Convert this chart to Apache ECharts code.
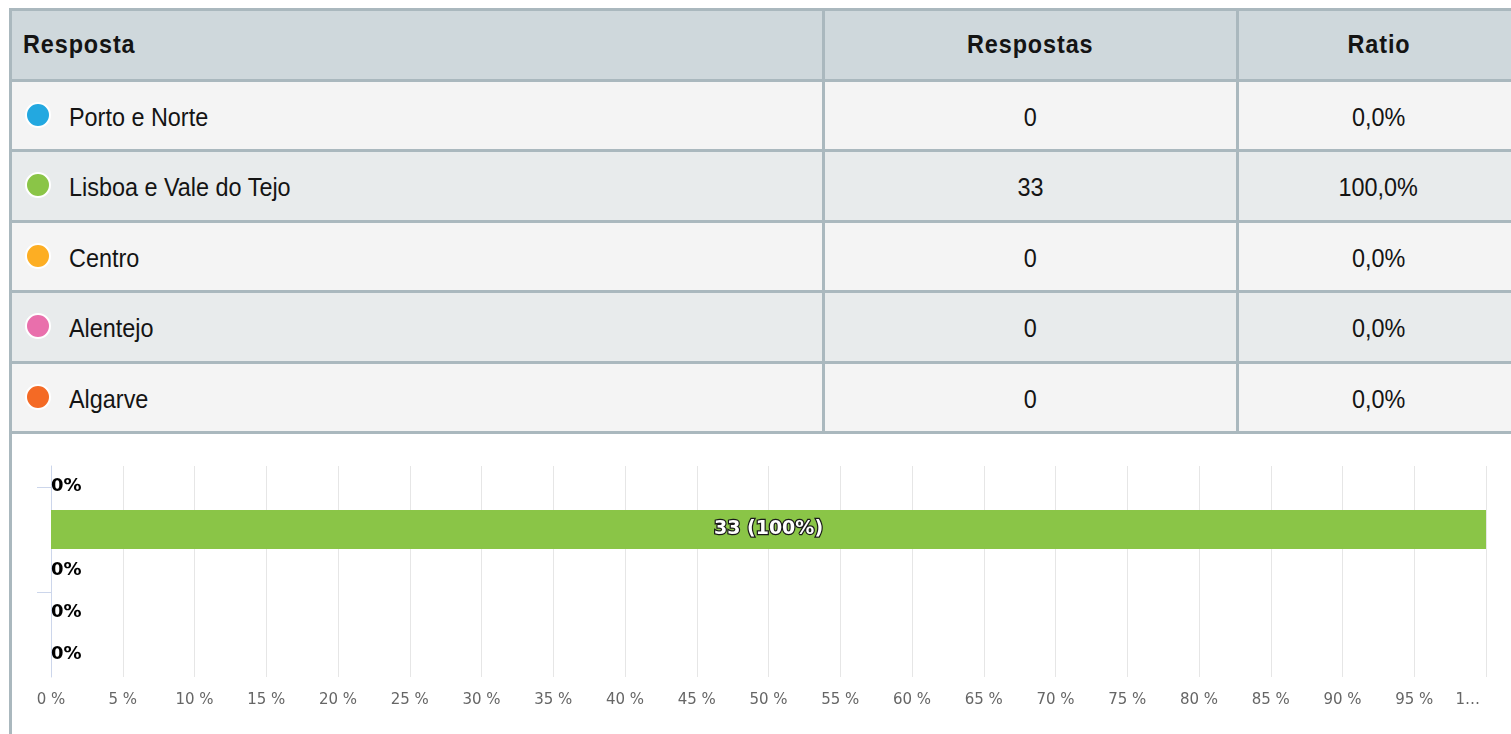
<!DOCTYPE html>
<html>
<head>
<meta charset="utf-8">
<script src="https://cdn.jsdelivr.net/npm/echarts@6/dist/echarts.min.js"></script>
<style>
  html, body { margin: 0; padding: 0; background: #ffffff; overflow: hidden; width: 1511px; height: 734px; }
  #wrap { position: absolute; left: 9px; top: 8px; width: 1512px; }
  table { border-collapse: collapse; width: 1512px; table-layout: fixed; font-family: "Liberation Sans", Arial, sans-serif; color: #141414; }
  td, th { border: 3px solid #aab8be; padding: 0; font-size: 26px; white-space: nowrap; }
  td { padding-top: 4px; }
  th { background: #cfd8dc; font-weight: bold; letter-spacing: 1px; }
  th.c1 { text-align: left; padding-left: 11px; }
  td.c1 { text-align: left; padding-left: 13px; }
  .c2, .c3 { text-align: center; }
  tr { height: 70.5px; }
  tr.odd td { background: #f4f4f4; }
  tr.even td { background: #e8ebec; }
  .t { display: inline-block; transform: scaleX(0.9); }
  .c1 .t { transform-origin: left center; }
  .c2 .t, .c3 .t { transform-origin: center center; }
  .dot { display: inline-block; width: 22px; height: 22px; border-radius: 50%; border: 2px solid #fff; vertical-align: middle; margin-right: 18px; position: relative; top: -4px; }
  #chartbox { border-left: 3px solid #aab8be; height: 310px; }
  #chart { width: 1499px; height: 302px; }
</style>
</head>
<body>
<div id="wrap">
  <table id="tbl"></table>
  <div id="chartbox"><div id="chart"></div></div>
</div>
<script>
// ---- data ----
const headers = ['Resposta', 'Respostas', 'Ratio'];
const categories = ['Porto e Norte', 'Lisboa e Vale do Tejo', 'Centro', 'Alentejo', 'Algarve'];
const counts = [0, 33, 0, 0, 0];
const ratios = [0.0, 100.0, 0.0, 0.0, 0.0];
const colors = ['#23a8e0', '#8ac547', '#fdae23', '#e96fac', '#f46a25'];
const xTickLabels = ['0 %', '5 %', '10 %', '15 %', '20 %', '25 %', '30 %', '35 %', '40 %', '45 %', '50 %',
  '55 %', '60 %', '65 %', '70 %', '75 %', '80 %', '85 %', '90 %', '95 %', '1…'];

// ---- table ----
const tbl = document.getElementById('tbl');
const sp = s => '<span class="t">' + s + '</span>';
let html = '<colgroup><col style="width:813px"><col style="width:414px"><col></colgroup>';
html += '<tr><th class="c1">' + sp(headers[0]) + '</th><th class="c2">' + sp(headers[1]) + '</th><th class="c3">' + sp(headers[2]) + '</th></tr>';
categories.forEach((c, i) => {
  html += '<tr class="' + (i % 2 === 0 ? 'odd' : 'even') + '"><td class="c1"><span class="dot" style="background:' + colors[i] + '"></span>' + sp(c) +
    '</td><td class="c2">' + sp(counts[i]) + '</td><td class="c3">' + sp(ratios[i].toFixed(1).replace('.', ',') + '%') + '</td></tr>';
});
tbl.innerHTML = html;

// ---- chart ----
const chart = echarts.init(document.getElementById('chart'), null, { renderer: 'canvas' });
const lastIdx = xTickLabels.length - 1;
const option = {
  animation: false,
  grid: { left: 39, right: 25, top: 32, bottom: 59, containLabel: false },
  xAxis: {
    type: 'value', min: 0, max: 100, interval: 5,
    axisLine: { show: false }, axisTick: { show: false },
    splitLine: { show: true, lineStyle: { color: '#e6e6e6', width: 1 } },
    axisLabel: {
      color: '#666666', fontSize: 15, fontFamily: 'DejaVu Sans', margin: 16,
      alignMaxLabel: 'right',
      formatter: v => {
        const k = Math.round(v / 5);
        return k === lastIdx ? '{last|' + xTickLabels[k] + '}' : xTickLabels[k];
      },
      rich: { last: { color: '#666666', fontSize: 15, fontFamily: 'DejaVu Sans', padding: [0, 6, 0, 0] } }
    }
  },
  yAxis: [
    {
      type: 'category', data: [''], inverse: true,
      axisLine: { show: true, lineStyle: { color: '#ccd6eb', width: 1 } },
      axisTick: { show: false }, axisLabel: { show: false }, splitLine: { show: false }
    },
    {
      type: 'value', inverse: true, min: 0, max: 10, position: 'left',
      axisLine: { show: false },
      axisTick: { show: true, customValues: [1, 6], length: 14, lineStyle: { color: '#ccd6eb' } },
      axisLabel: { show: false }, splitLine: { show: false }
    }
  ],
  series: categories.map((name, i) => ({
    type: 'bar', name: name, yAxisIndex: 0,
    data: [ratios[i]],
    barWidth: 39, barGap: '7.7%', barCategoryGap: '0%',
    itemStyle: { color: colors[i] },
    label: counts[i] > 0 ? {
      show: true, position: 'inside',
      formatter: counts[i] + ' (' + Math.round(ratios[i]) + '%)',
      color: '#ffffff', fontSize: 19, fontWeight: 'bold', fontFamily: 'DejaVu Sans',
      textBorderColor: '#1a1a1a', textBorderWidth: 2.5
    } : {
      show: true, position: 'right', distance: 0, offset: [0, -1],
      formatter: Math.round(ratios[i]) + '%',
      color: '#000000', fontSize: 18, fontWeight: 'bold', fontFamily: 'DejaVu Sans'
    }
  }))
};
chart.setOption(option);
</script>
</body>
</html>
